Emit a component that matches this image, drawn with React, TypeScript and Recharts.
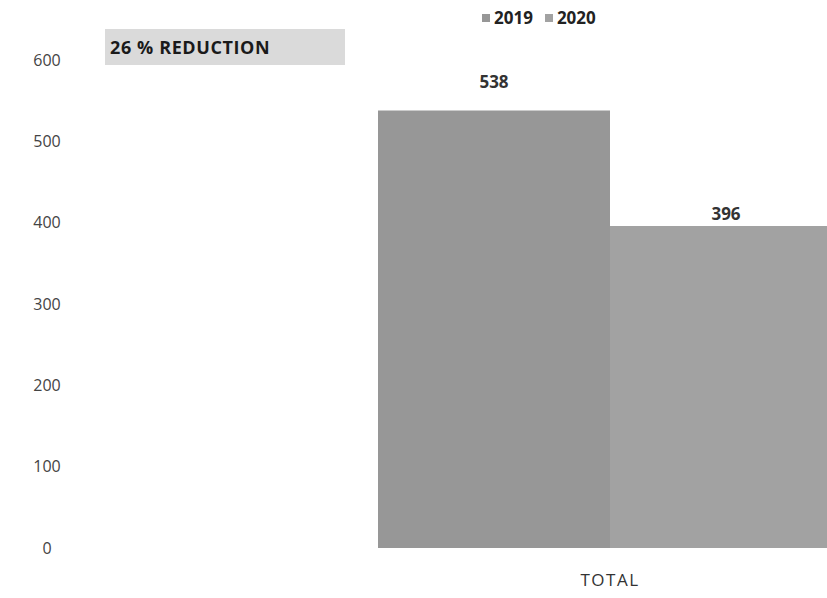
import { Bar, BarChart, LabelList, XAxis, YAxis } from "recharts";

const CATEGORIES = ["TOTAL"];
const VALUES_2019 = [538];
const VALUES_2020 = [396];
const Y_TICKS = [0, 100, 200, 300, 400, 500, 600];

const SERIES = [
  { key: "y2019", name: "2019", color: "#979797" },
  { key: "y2020", name: "2020", color: "#a2a2a2" },
];

const FONT = "'Open Sans', 'Noto Sans', sans-serif";

const data = CATEGORIES.map((c, i) => ({
  cat: c,
  y2019: VALUES_2019[i],
  y2020: VALUES_2020[i],
}));

// legend sits above the plot, kept outside the chart so it takes no plot space
function LegendBox() {
  return (
    <div
      style={{
        position: "absolute", left: 482, top: 6, display: "flex", gap: 12,
        fontFamily: FONT, fontWeight: 700, fontSize: 17, color: "#222", zIndex: 2,
      }}
    >
      {SERIES.map((s) => (
        <span key={s.key} style={{ display: "flex", alignItems: "center", gap: 4 }}>
          <span style={{ width: 8, height: 8, background: s.color, display: "inline-block" }} />
          {s.name}
        </span>
      ))}
    </div>
  );
}

export default function App() {
  return (
    <div style={{ position: "absolute", left: 0, top: 0, width: 827, height: 598, overflow: "hidden", background: "#fff" }}>
      <div
        style={{
          position: "absolute", left: 105, top: 29, width: 240, height: 36,
          background: "#dadada", fontFamily: FONT, fontWeight: 700, fontSize: 18,
          letterSpacing: 0.6, color: "#1a1a1a", lineHeight: "36px", paddingLeft: 5,
          boxSizing: "border-box", zIndex: 2,
        }}
      >
        26 % REDUCTION
      </div>
      <LegendBox />
      <BarChart
        width={1150}
        height={598}
        data={data}
        margin={{ top: 60, right: 0, bottom: 0, left: 0 }}
        barGap={0}
        barSize={232}
      >
        <XAxis
          dataKey="cat"
          axisLine={false}
          tickLine={false}
          height={50}
          tickMargin={20}
          tick={{ fontFamily: FONT, fontSize: 17, fill: "#333", letterSpacing: 1.5 }}
        />
        <YAxis
          domain={[0, 600]}
          ticks={Y_TICKS}
          axisLine={false}
          tickLine={false}
          width={70}
          tick={{ fontFamily: FONT, fontSize: 16, fill: "#444", textAnchor: "middle", dx: -15 }}
        />
        <Bar dataKey="y2019" name="2019" fill={SERIES[0].color} isAnimationActive={false}>
          <LabelList dataKey="y2019" position="top" offset={22} style={{ fontFamily: FONT, fontWeight: 700, fontSize: 17, fill: "#333" }} />
        </Bar>
        <Bar dataKey="y2020" name="2020" fill={SERIES[1].color} isAnimationActive={false}>
          <LabelList dataKey="y2020" position="top" offset={6} style={{ fontFamily: FONT, fontWeight: 700, fontSize: 17, fill: "#333" }} />
        </Bar>
      </BarChart>
    </div>
  );
}
